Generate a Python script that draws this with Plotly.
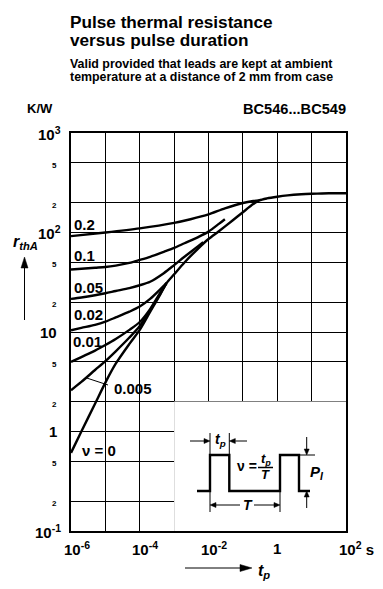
import math
import plotly.graph_objects as go

# ---------------- data ----------------
t_nu0 = [1e-6, 2e-6, 5e-6, 1e-5, 2e-5, 5e-5, 1e-4, 2e-4, 4e-4, 6e-4, 1e-3, 2e-3, 5e-3,
         1e-2, 2e-2, 5e-2, 0.1, 0.2, 0.3, 0.5, 1, 2, 5, 10, 20, 50, 100]
r_nu0 = [0.61, 1.0, 1.9, 3.1, 4.8, 7.6, 10.5, 15.9, 24, 31, 38, 50, 69,
         86, 103, 132, 160, 193, 210, 220, 229, 236, 242, 245, 247, 248, 248]

t_low = [1e-6, 2e-6, 5e-6, 1e-5, 2e-5, 5e-5, 1e-4, 2e-4, 4e-4, 6e-4]
r_0005 = [2.6, 3.15, 4.15, 5.1, 6.4, 8.8, 11.5, 16.5, 24.5, 31]
r_001 = [5.0, 5.6, 6.5, 7.4, 8.5, 10.5, 12.6, 17, 25, 31]
r_002 = [10.4, 11.0, 11.8, 12.7, 14, 16, 18, 21.5, 27, 31]

t_005 = [1e-6, 2e-6, 5e-6, 1e-5, 2e-5, 5e-5, 1e-4, 2e-4, 5e-4, 1e-3, 2e-3, 5e-3, 7e-3]
r_005 = [21.5, 22.2, 23.4, 24.5, 25.8, 27.6, 29.5, 32, 39, 47, 57, 73, 80]

t_01 = [1e-6, 2e-6, 5e-6, 1e-5, 2e-5, 5e-5, 1e-4, 2e-4, 5e-4, 1e-3, 2e-3, 5e-3, 1e-2, 2e-2, 3e-2]
r_01 = [42.5, 43.2, 44.2, 45, 46.5, 49.5, 53, 57, 64, 70, 78, 90, 102, 122, 136]

t_02 = [1e-6, 1e-5, 1e-4, 1e-3, 3e-3, 1e-2, 3e-2, 0.1, 0.2, 0.3]
r_02 = [92, 100, 110, 125, 136, 152, 175, 198, 207, 210]

series = [
    ("ν = 0", t_nu0, r_nu0),
    ("0.005", t_low, r_0005),
    ("0.01", t_low, r_001),
    ("0.02", t_low, r_002),
    ("0.05", t_005, r_005),
    ("0.1", t_01, r_01),
    ("0.2", t_02, r_02),
]

x_ticks = [1e-6, 1e-4, 1e-2, 1, 1e2]
x_tick_text = ["10<sup>-6</sup>", "10<sup>-4</sup>", "10<sup>-2</sup>", "1", "10<sup>2</sup> s"]
y_grid = [0.1, 0.2, 0.5, 1, 2, 5, 10, 20, 50, 100, 200, 500, 1000]
y_tick_text = ["10<sup>-1</sup>", "2", "5", "1", "2", "5", "10", "2", "5",
               "10<sup>2</sup>", "2", "5", "10<sup>3</sup>"]

# ---------------- layout helpers (page pixel coordinates) ----------------
OFF = 8                      # browser body margin
PAGE_W, PAGE_H = 383, 589
W, H = PAGE_W - 2 * OFF, PAGE_H - 2 * OFF
L, R, T, B = 71, 346, 133, 531   # plot area in page pixels
FONT = "Liberation Sans, Arial, Helvetica, sans-serif"


def px(x):
    return (x - L) / (R - L)


def py(y):
    return (B - y) / (B - T)


fig = go.Figure()
for name, t, r in series:
    fig.add_trace(go.Scatter(x=t, y=r, mode="lines", name=name,
                             line=dict(color="black", width=2.4, shape="spline", smoothing=0.8),
                             hoverinfo="skip", showlegend=False))

shapes = []
annotations = []

# white box hiding the grid behind the pulse diagram
shapes.append(dict(type="rect", xref="x", yref="y", x0=1e-3, x1=1e2, y0=0.1, y1=2,
                   fillcolor="white", line=dict(width=0), layer="between"))


def line(x0, y0, x1, y1, w=1.0):
    shapes.append(dict(type="line", xref="paper", yref="paper",
                       x0=px(x0), y0=py(y0), x1=px(x1), y1=py(y1),
                       line=dict(color="black", width=w)))


def arrow(x0, y0, x1, y1, hl=10, hw=3.5, w=1.0):
    dx, dy = x1 - x0, y1 - y0
    d = math.hypot(dx, dy)
    ux, uy = dx / d, dy / d
    bx, by = x1 - ux * hl, y1 - uy * hl
    line(x0, y0, bx, by, w)
    nx, ny = -uy, ux
    pts = [(x1, y1), (bx + nx * hw, by + ny * hw), (bx - nx * hw, by - ny * hw)]
    path = "M " + " L ".join(f"{px(a):.5f},{py(b):.5f}" for a, b in pts) + " Z"
    shapes.append(dict(type="path", xref="paper", yref="paper", path=path,
                       fillcolor="black", line=dict(color="black", width=0.5)))


def text(x, y, s, size, xanchor="left", yanchor="middle"):
    annotations.append(dict(x=px(x), y=py(y), xref="paper", yref="paper", text=s,
                            showarrow=False, xanchor=xanchor, yanchor=yanchor, borderpad=0,
                            font=dict(family=FONT, size=size, color="black")))


# title block
text(69, 22, "<b>Pulse thermal resistance</b>", 17.2)
text(69, 40.5, "<b>versus pulse duration</b>", 17.2)
text(69, 63.5, "<b>Valid provided that leads are kept at ambient</b>", 12.4)
text(69, 77, "<b>temperature at a distance of 2 mm from case</b>", 12.4)
text(26, 108, "<b>K/W</b>", 13)
text(347, 109, "<b>BC546...BC549</b>", 14.6, xanchor="right")

# y tick labels (major / minor)
for v, s in zip(y_grid, y_tick_text):
    major = s in ("1", "10") or "sup" in s
    if major:
        xr = 62 if "sup" in s else 57.5
        annotations.append(dict(x=px(xr), y=math.log10(v), xref="paper", yref="y",
                                text=f"<b>{s}</b>", showarrow=False, xanchor="right",
                                yanchor="middle", borderpad=0,
                                font=dict(family=FONT, size=15, color="black")))
    else:
        annotations.append(dict(x=px(57.5), y=math.log10(v), xref="paper", yref="y",
                                text=f"<b>{s}</b>", showarrow=False, xanchor="right",
                                yanchor="middle", borderpad=0, yshift=-2.5,
                                font=dict(family=FONT, size=8, color="black")))

# x tick labels
for v, s in zip(x_ticks, x_tick_text):
    if "sup" in s:
        annotations.append(dict(x=math.log10(v), y=py(548), xref="x", yref="paper",
                                text=f"<b>{s}</b>", showarrow=False, xanchor="left",
                                xshift=-8.5, yanchor="middle", borderpad=0,
                                font=dict(family=FONT, size=15, color="black")))
    else:
        annotations.append(dict(x=math.log10(v), y=py(548), xref="x", yref="paper",
                                text=f"<b>{s}</b>", showarrow=False, xanchor="center",
                                yanchor="middle", borderpad=0,
                                font=dict(family=FONT, size=15, color="black")))

# axis titles with arrows
text(12, 242, "<b><i>r</i></b><sub><b><i>thA</i></b></sub>", 16)
arrow(24.5, 320, 24.5, 257, hl=11, hw=3.5)
arrow(185, 568, 252, 568, hl=12, hw=3.5)
text(257, 571, "<b><i>t</i></b><sub><b><i>p</i></b></sub>", 16)

# curve labels
for s, x, y in [("0.2", 73, 224), ("0.1", 73, 255), ("0.05", 73, 287.5), ("0.02", 73, 314),
                ("0.01", 72, 341), ("0.005", 113, 388.5), ("ν = 0", 81, 450)]:
    text(x, y, f"<b>{s}</b>", 15)
line(86.7, 378, 108, 385, 1)

# pulse diagram
pulse = [(197, 491), (210, 491), (210, 455), (229.3, 455), (229.3, 491), (280, 491),
         (280, 455), (299, 455), (299, 491), (310, 491)]
shapes.append(dict(type="path", xref="paper", yref="paper",
                   path="M " + " L ".join(f"{px(a):.5f},{py(b):.5f}" for a, b in pulse),
                   line=dict(color="black", width=2.4)))
# t_p dimension
line(210, 433, 210, 455)
line(229.3, 433, 229.3, 455)
arrow(190, 441, 210, 441, hl=6, hw=2.5)
arrow(247, 441, 229.3, 441, hl=6, hw=2.5)
text(220, 440, "<b><i>t</i></b><sub><b><i>p</i></b></sub>", 14, xanchor="center")
# T dimension
line(210, 491, 210, 512)
line(280, 491, 280, 512)
arrow(240, 505, 210, 505, hl=6, hw=2.5)
arrow(254, 505, 280, 505, hl=6, hw=2.5)
text(247.5, 505, "<b><i>T</i></b>", 14, xanchor="center")
# duty cycle
text(236, 466, "<b>ν =</b>", 14)
text(265.5, 459, "<b><i>t</i></b><sub><b><i>p</i></b></sub>", 13, xanchor="center")
line(258, 467.5, 273, 467.5, 1.5)
text(265.5, 474.5, "<b><i>T</i></b>", 13, xanchor="center")
# P_I dimension
line(299, 455, 315, 455)
arrow(306.7, 437, 306.7, 455, hl=6, hw=2.5)
arrow(306.7, 508, 306.7, 491, hl=6, hw=2.5)
text(309, 472, "<b><i>P</i></b><sub><b><i>I</i></b></sub>", 15)

axis_common = dict(type="log", showgrid=True, gridcolor="black", gridwidth=1,
                   showline=True, linecolor="black", linewidth=2, mirror=True,
                   ticks="", showticklabels=False, zeroline=False, fixedrange=True)

fig.update_layout(
    width=W, height=H,
    margin=dict(l=L - OFF, r=(PAGE_W - OFF) - R, t=T - OFF, b=(PAGE_H - OFF) - B, pad=0),
    paper_bgcolor="white", plot_bgcolor="white",
    xaxis=dict(range=[-6, 2], tickvals=[10 ** k for k in range(-6, 3)], **axis_common),
    yaxis=dict(range=[-1, 3], tickvals=y_grid, **axis_common),
    shapes=shapes, annotations=annotations, showlegend=False,
)

fig.write_html("out.html")
